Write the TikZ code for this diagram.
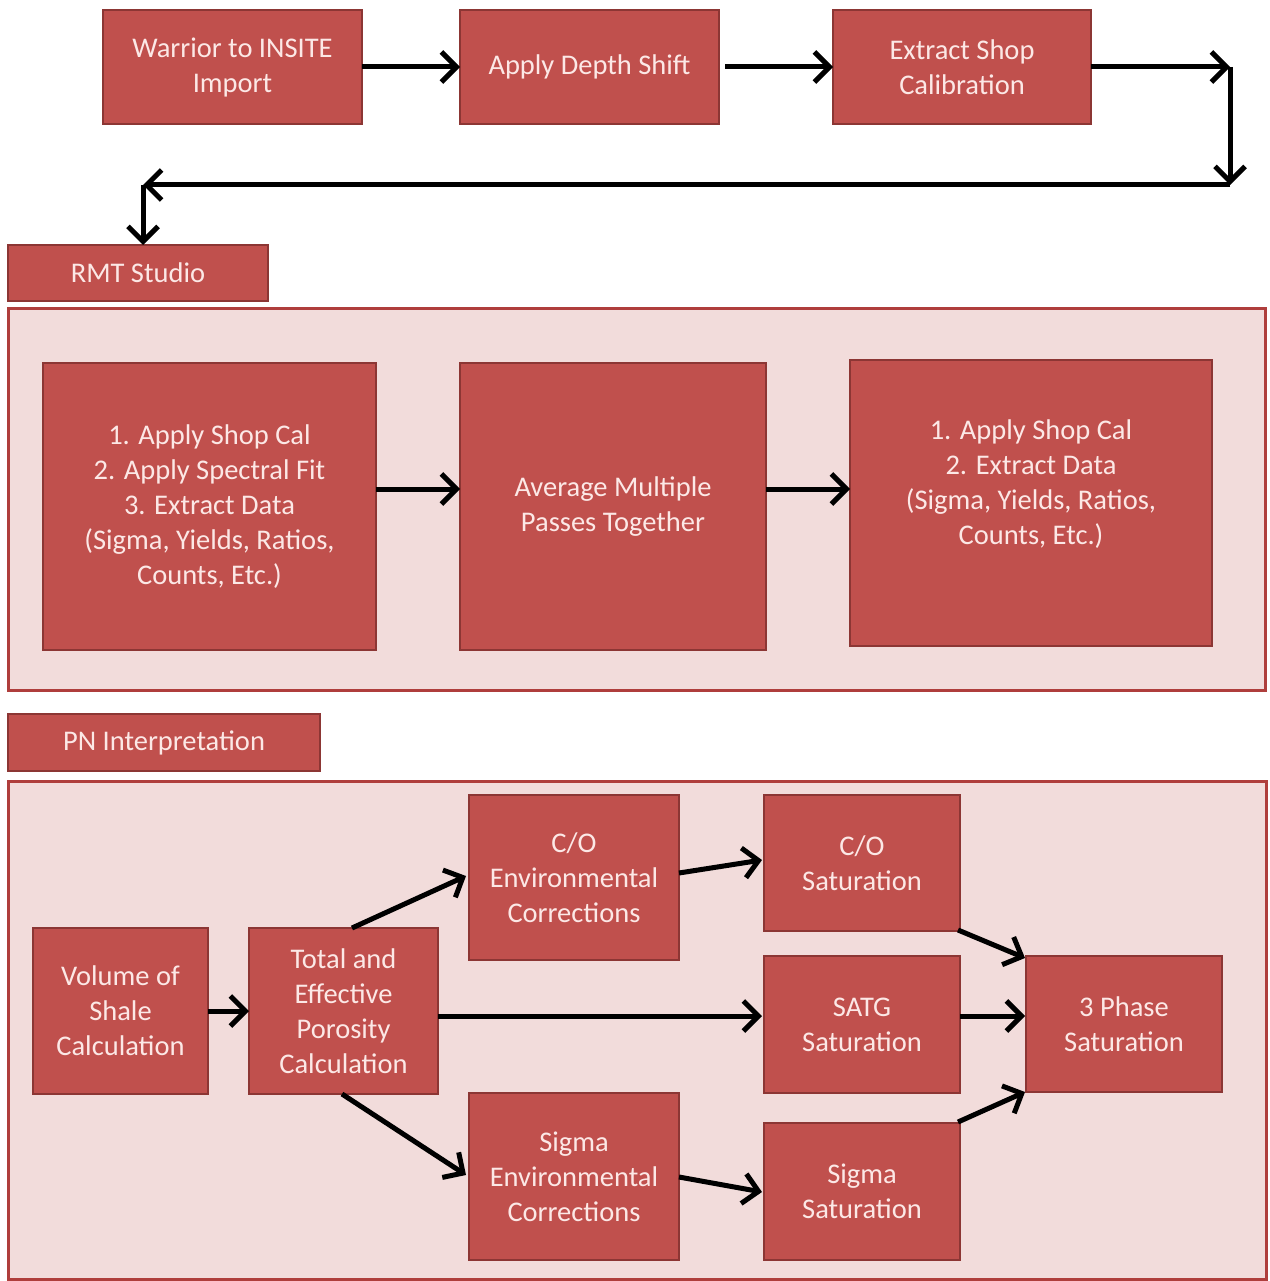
\documentclass[tikz,border=0pt]{standalone}
\usepackage{fontspec}
\setmainfont{Carlito}
\usetikzlibrary{arrows.meta}
\definecolor{boxfill}{RGB}{192,80,77}
\definecolor{boxline}{RGB}{140,54,52}
\definecolor{panelfill}{RGB}{242,220,219}
\definecolor{panelline}{RGB}{175,62,60}
\definecolor{txt}{RGB}{252,232,230}
\tikzset{
  box/.style={draw=boxline, line width=2pt, fill=boxfill, text=txt, align=center,
    font=\fontsize{28.5}{35}\selectfont, inner sep=0pt, outer sep=0pt},
  panel/.style={draw=panelline, line width=3pt, fill=panelfill},
  conn/.style={line width=5pt, -{Straight Barb[length=15pt,width=30pt,line width=5pt]}},
}
\newcommand{\bx}[6]{\node[box, minimum width={#4-#2}, minimum height={#5-#3}] (#1) at ({(#2+#4)/2},{(#3+#5)/2}) {#6};}
\begin{document}
\begin{tikzpicture}[x=1pt,y=-1pt]
\useasboundingbox[fill=white] (0,0) rectangle (1269,1281);
% panels
\draw[panel] (8,308) rectangle (1265,690);
\draw[panel] (8,781) rectangle (1266,1279);
% top row
\bx{w}{103}{10}{362}{124}{Warrior to INSITE\\Import}
\bx{d}{460}{10}{719}{124}{Apply Depth Shift}
\bx{e}{833}{10}{1091}{124}{Extract Shop\\Calibration}
% tabs
\bx{rmt}{8}{245}{268}{301}{RMT Studio}
\bx{pn}{8}{714}{320}{771}{PN Interpretation}
% RMT panel
\bx{a1}{43}{363}{376}{650}{1. Apply Shop Cal\\2. Apply Spectral Fit\\3. Extract Data\\(Sigma, Yields, Ratios,\\Counts, Etc.)}
\bx{a2}{460}{363}{766}{650}{Average Multiple\\Passes Together}
\bx{a3}{850}{360}{1212}{646}{1. Apply Shop Cal\\2. Extract Data\\(Sigma, Yields, Ratios,\\Counts, Etc.)\\[6pt]}
% PN panel
\bx{v}{33}{928}{208}{1094}{Volume of\\Shale\\Calculation}
\bx{t}{249}{928}{438}{1094}{Total and\\Effective\\Porosity\\Calculation}
\bx{coe}{469}{795}{679}{960}{C/O\\Environmental\\Corrections}
\bx{cos}{764}{795}{960}{931}{C/O\\Saturation}
\bx{satg}{764}{956}{960}{1093}{SATG\\Saturation}
\bx{sge}{469}{1093}{679}{1260}{Sigma\\Environmental\\Corrections}
\bx{sgs}{764}{1123}{960}{1260}{Sigma\\Saturation}
\bx{tp}{1026}{956}{1222}{1092}{3 Phase\\Saturation}
% top connectors
\coordinate (c1) at (1230,67);
\coordinate (c2) at (1230,185);
\coordinate (c3) at (143,185);
\draw[conn] (w.east) -- (d.west);
\draw[conn] (d.east) ++(6,0) -- (e.west);
\draw[conn] (e.east) -- (c1);
\draw[conn] (c1) -- (c2);
\draw[conn] (c2) -- (c3);
\draw[conn] (c3) -- (c3 |- rmt.north);
% RMT connectors
\draw[conn] (a1.east |- 0,489) -- (a2.west |- 0,489);
\draw[conn] (a2.east |- 0,489) -- (a3.west |- 0,489);
% PN connectors
\draw[conn] (v.east |- 0,1011) -- (t.west |- 0,1011);
\draw[conn] (352,928) -- (466,876);
\draw[conn] (t.east |- 0,1016) -- (762,1016);
\draw[conn] (342,1094) -- (466,1175);
\draw[conn] (679,873) -- (762,860);
\draw[conn] (679,1177) -- (762,1192);
\draw[conn] (958,930) -- (1025,958);
\draw[conn] (satg.east |- 0,1016) -- (1025,1016);
\draw[conn] (958,1122) -- (1025,1092);
\end{tikzpicture}
\end{document}
